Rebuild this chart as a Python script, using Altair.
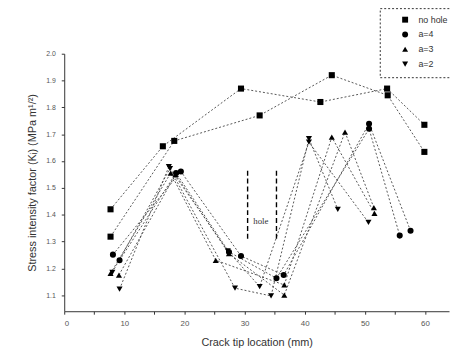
import altair as alt
import pandas as pd

series_names = ["no hole", "a=4", "a=3", "a=2"]
series_shapes = ["square", "circle", "triangle-up", "triangle-down"]

line_series = ["no hole", "no hole", "a=4", "a=4", "a=3", "a=3", "a=2", "a=2"]
x_vals = [
    [7.7, 16.4, 29.4, 42.6, 53.7, 59.9],
    [7.7, 18.3, 32.5, 44.5, 53.8, 59.9],
    [8.1, 19.4, 29.4, 36.5, 50.7, 57.6],
    [9.2, 18.6, 27.4, 35.3, 50.7, 55.8],
    [7.7, 17.7, 25.2, 36.6, 44.5, 51.6],
    [9.1, 18.5, 27.4, 36.6, 46.7, 51.5],
    [9.2, 17.4, 28.4, 34.4, 40.7, 45.5],
    [8.0, 17.6, 27.2, 32.5, 40.7, 50.6],
]
y_vals = [
    [1.42, 1.655, 1.87, 1.82, 1.87, 1.735],
    [1.318, 1.675, 1.77, 1.92, 1.845, 1.634],
    [1.251, 1.561, 1.246, 1.175, 1.739, 1.34],
    [1.23, 1.555, 1.261, 1.163, 1.72, 1.322],
    [1.181, 1.555, 1.23, 1.138, 1.689, 1.405],
    [1.175, 1.549, 1.255, 1.10, 1.708, 1.426],
    [1.122, 1.579, 1.126, 1.097, 1.683, 1.42],
    [1.185, 1.572, 1.265, 1.132, 1.67, 1.371],
]

hole_x = [30.5, 35.3]
hole_y_low = [1.31, 1.31]
hole_y_high = [1.57, 1.57]
hole_label = ["hole"]
hole_label_x = [32.7]
hole_label_y = [1.375]

x_ticks = [0, 5, 10, 15, 20, 25, 30, 35, 40, 45, 50, 55, 60]
y_ticks = [1.1, 1.2, 1.3, 1.4, 1.5, 1.6, 1.7, 1.8, 1.9, 2.0]

rows = []
for i, (s, xs, ys) in enumerate(zip(line_series, x_vals, y_vals)):
    for x, y in zip(xs, ys):
        rows.append({"line": f"L{i}", "series": s, "x": x, "y": y})
df = pd.DataFrame(rows)

hole_df = pd.DataFrame({"x": hole_x, "y": hole_y_low, "y2": hole_y_high})
label_df = pd.DataFrame({"x": hole_label_x, "y": hole_label_y, "t": hole_label})

xscale = alt.Scale(domain=[0, 64], nice=False)
yscale = alt.Scale(domain=[1.04, 2.0], nice=False, zero=False)

x_axis = alt.Axis(
    title="Crack tip location (mm)", values=x_ticks,
    labelExpr="datum.value % 10 == 0 ? datum.label : ''",
    labelOverlap=False,
    grid=False, tickSize=3, labelFontSize=8, labelColor="#555",
    labelPadding=5, titleFontSize=11, titleFontWeight="normal",
    titleColor="#333", titlePadding=10, domainColor="#333", tickColor="#333",
    titleFont="Liberation Sans", labelFont="Liberation Sans",
)
y_axis = alt.Axis(
    title="Stress intensity factor (Kᵢ) (MPa m¹/²)", values=y_ticks,
    format=".1f", labelOverlap=False, labelSeparation=0,
    grid=False, tickSize=3, labelFontSize=7, labelColor="#555",
    labelPadding=6, titleFontSize=11, titleFontWeight="normal",
    titleColor="#333", titlePadding=8, domainColor="#333", tickColor="#333",
    titleFont="Liberation Sans", labelFont="Liberation Sans",
)

X = alt.X("x:Q", scale=xscale, axis=x_axis)
Y = alt.Y("y:Q", scale=yscale, axis=y_axis)

base = alt.Chart(df)
lines = base.mark_line(color="#444", strokeWidth=0.9, strokeDash=[2, 2]).encode(
    x=X, y=Y, detail="line:N",
)
points = base.mark_point(filled=True, color="black", size=38, opacity=1).encode(
    x=X, y=Y,
    shape=alt.Shape(
        "series:N",
        scale=alt.Scale(domain=series_names, range=series_shapes),
        legend=alt.Legend(
            title=None, orient="none", legendX=320, legendY=-46,
            labelFontSize=9, labelColor="#333", symbolSize=36,
            symbolFillColor="black", symbolStrokeColor="black",
            padding=7, rowPadding=2, symbolOffset=14, labelOffset=9,
            labelFont="Liberation Sans",
        ),
    ),
)
rules = alt.Chart(hole_df).mark_rule(color="black", strokeWidth=1.4, strokeDash=[5, 3]).encode(
    x=X, y=Y, y2="y2:Q"
)
text = alt.Chart(label_df).mark_text(font="Liberation Serif", fontSize=9, color="#333").encode(
    x=X, y=Y, text="t:N"
)

chart = (
    alt.layer(lines, points, rules, text)
    .properties(
        width=390, height=261,
        autosize=alt.AutoSizeParams(type="none"),
        padding={"left": 57, "top": 44, "right": 2, "bottom": 40},
    )
    .configure_view(stroke=None)
    .configure_axis(labelOverlap=False)
    .configure_legend(strokeColor="black", strokeDash=[2, 2], strokeWidth=0.8)
)

chart.save("out.html", embed_options={"renderer": "svg", "actions": False})
